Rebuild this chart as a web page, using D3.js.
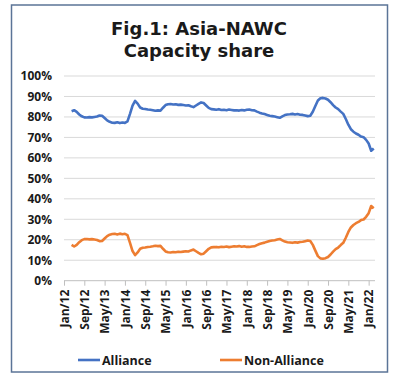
<!DOCTYPE html>
<html>
<head>
<meta charset="utf-8">
<script src="https://cdn.jsdelivr.net/npm/d3@7"></script>
<style>
html,body{margin:0;padding:0;background:#fff;}
svg{display:block;}
text{font-family:"Open Sans",sans-serif;font-weight:bold;fill:#1a1a1a;}
</style>
</head>
<body>
<svg id="chart" width="393" height="378"></svg>
<script>
// Month index counted from Jan 2012 (0 = Jan/12)
const startMonth = 3; // Apr 2012
const alliance = [
82.8,83.3,82.5,81.2,80.3,79.8,79.7,79.9,79.8,80.0,80.2,80.7,80.6,79.5,78.3,77.6,77.2,77.1,77.4,77.0,
77.3,77.1,77.8,81.5,85.5,87.8,86.5,84.6,84.0,83.9,83.6,83.5,83.3,83.0,83.2,83.1,84.5,85.8,86.2,86.3,
86.1,86.2,85.9,86.0,85.8,85.6,85.7,85.2,84.8,85.6,86.4,87.1,86.8,85.6,84.4,83.8,83.7,83.5,83.8,83.4,
83.5,83.3,83.6,83.4,83.2,83.3,83.1,83.4,83.2,83.5,83.6,83.3,83.2,82.6,82.1,81.7,81.4,81.0,80.6,80.4,
80.2,79.9,79.6,80.3,80.9,81.2,81.3,81.5,81.2,81.4,81.1,81.0,80.7,80.4,80.6,82.5,85.3,88.0,89.1,89.3,
89.0,88.4,87.2,85.8,84.6,83.8,82.6,81.5,79.0,76.2,74.0,72.8,71.9,71.3,70.4,70.1,68.8,67.0,63.5,64.6
];
const nonAlliance = [
17.5,16.7,17.5,18.8,19.8,20.3,20.4,20.2,20.3,20.1,19.9,19.3,19.4,20.6,21.8,22.5,22.8,22.9,22.6,23.0,
22.7,22.9,22.3,18.5,14.5,12.5,13.8,15.6,16.1,16.2,16.5,16.6,16.8,17.1,16.9,17.0,15.6,14.3,13.9,13.8,
14.0,13.9,14.1,14.0,14.2,14.4,14.3,14.8,15.2,14.4,13.6,12.9,13.2,14.4,15.6,16.3,16.4,16.5,16.3,16.6,
16.5,16.7,16.4,16.6,16.8,16.7,16.9,16.6,16.8,16.5,16.5,16.7,16.8,17.4,17.9,18.3,18.6,19.0,19.4,19.6,
19.8,20.1,20.4,19.7,19.1,18.8,18.7,18.5,18.8,18.6,18.9,19.0,19.3,19.6,19.4,17.5,14.7,12.0,10.9,10.7,
11.0,11.6,12.8,14.2,15.4,16.2,17.4,18.5,21.0,23.8,26.0,27.2,28.1,28.7,29.6,29.9,31.2,33.0,36.5,35.4
];
const tickLabels = ["Jan/12","Sep/12","May/13","Jan/14","Sep/14","May/15","Jan/16","Sep/16","May/17","Jan/18","Sep/18","May/19","Jan/20","Sep/20","May/21","Jan/22"];
const yTicks = [0,10,20,30,40,50,60,70,80,90,100];
const seriesNames = ["Alliance","Non-Alliance"];
const colors = ["#4472C4","#ED7D31"];

const svg = d3.select("#chart");
// frame
svg.append("rect").attr("x",11.5).attr("y",5).attr("width",376).attr("height",367)
  .attr("fill","#fff").attr("stroke","#5b7497").attr("stroke-width",1.5);

// title
["Fig.1: Asia-NAWC","Capacity share"].forEach((t,i)=>{
  svg.append("text").attr("text-anchor","middle").attr("font-size",18)
    .style("font-family","'DejaVu Sans',sans-serif")
    .attr("x",199).attr("y",35+i*22).text(t);
});

const x = d3.scaleLinear().domain([0,122.5]).range([64,375]);
const y = d3.scaleLinear().domain([0,100]).range([280.7,76]);

// gridlines
svg.append("g").selectAll("line").data(yTicks.filter(d=>d>0)).join("line")
  .attr("x1",64).attr("x2",375).attr("y1",d=>y(d)).attr("y2",d=>y(d))
  .attr("stroke","#d9d9d9").attr("stroke-width",1);

// y axis labels
svg.append("g").selectAll("text").data(yTicks).join("text")
  .attr("x",52).attr("y",d=>y(d)).attr("dy","0.36em").attr("text-anchor","end")
  .attr("font-size",12).text(d=>d+"%");

// x axis
const tickMonths = tickLabels.map((_,i)=>i*8);
const xAxis = d3.axisBottom(x).tickValues(tickMonths).tickSize(5).tickFormat((d,i)=>tickLabels[i]);
const gx = svg.append("g").attr("transform",`translate(0,${y(0)})`).call(xAxis);
gx.select(".domain").attr("stroke","#bfbfbf").attr("d",`M64,0H375`);
gx.selectAll(".tick line").attr("stroke","#bfbfbf");
gx.selectAll(".tick text")
  .attr("font-family","'Open Sans',sans-serif").attr("font-weight","bold").attr("font-size",12)
  .attr("fill","#1a1a1a")
  .attr("transform","rotate(-90)").attr("text-anchor","end")
  .attr("x",-9).attr("y",0).attr("dy","0.36em");

// lines
const line = d3.line().x((d,i)=>x(startMonth+i)).y(d=>y(d)).curve(d3.curveLinear);
[alliance,nonAlliance].forEach((s,k)=>{
  svg.append("path").datum(s).attr("d",line).attr("fill","none")
    .attr("stroke",colors[k]).attr("stroke-width",2.6).attr("stroke-linejoin","round");
});

// legend
const legendX = [78,220];
seriesNames.forEach((n,k)=>{
  svg.append("line").attr("x1",legendX[k]).attr("x2",legendX[k]+22).attr("y1",360).attr("y2",360)
    .attr("stroke",colors[k]).attr("stroke-width",2.6);
  svg.append("text").attr("x",legendX[k]+24).attr("y",360).attr("dy","0.36em")
    .attr("font-size",12.5).text(n);
});
</script>
</body>
</html>
